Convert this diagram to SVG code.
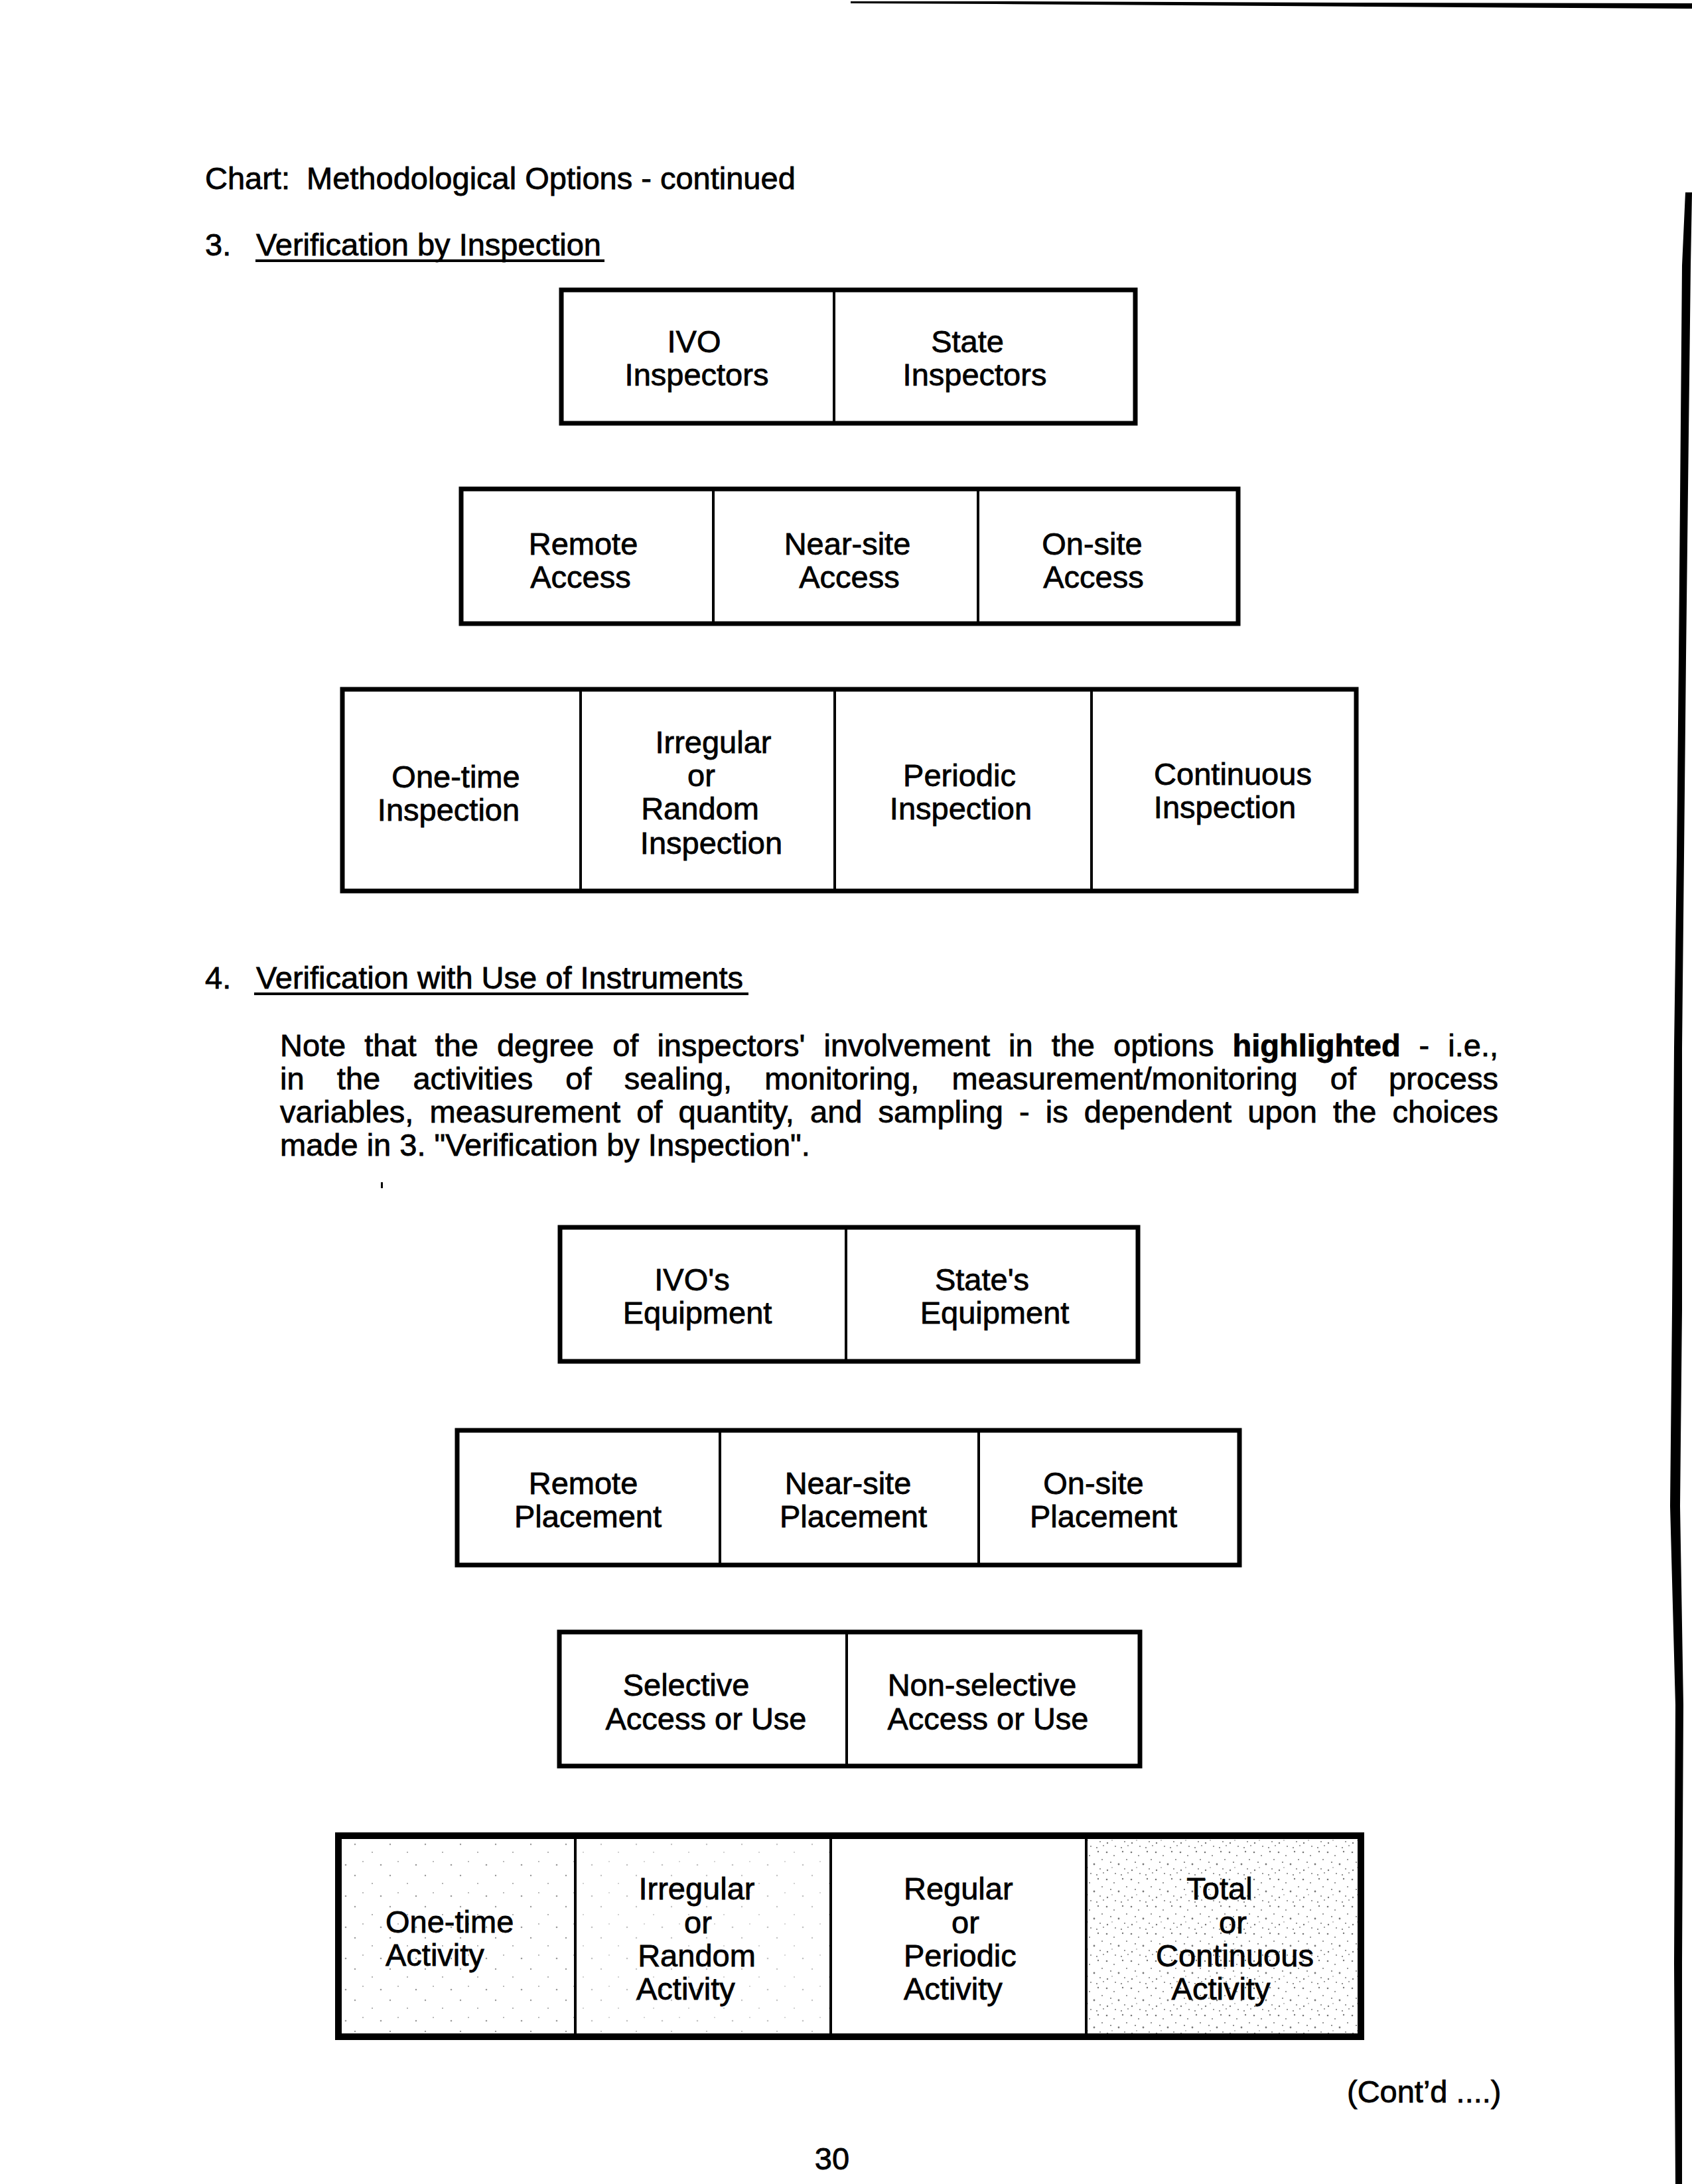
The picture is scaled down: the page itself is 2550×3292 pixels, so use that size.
<svg xmlns="http://www.w3.org/2000/svg" width="2550" height="3292" viewBox="0 0 2550 3292">
<style>
.t{font-family:"Liberation Sans",Arial,Helvetica,sans-serif;font-size:47px;fill:#000;stroke:#000;stroke-width:0.8}
.c{text-anchor:middle}
.b{font-weight:bold}
.cell{fill:none;stroke:#000;stroke-width:4}
.frame{fill:none;stroke:#000;stroke-width:7}
.frameH{fill:none;stroke:#000;stroke-width:10}
.ul{fill:#000}
</style>
<defs>
<pattern id="dotsL" width="53" height="47" patternUnits="userSpaceOnUse">
<g fill="#9a9a9a"><circle cx="5" cy="7" r="1.2"/><circle cx="31" cy="19" r="1"/><circle cx="44" cy="38" r="1.3"/><circle cx="17" cy="33" r="0.9"/></g>
</pattern>
<pattern id="dotsH" width="37" height="41" patternUnits="userSpaceOnUse">
<g fill="#777"><circle cx="3" cy="4" r="1.3"/><circle cx="14" cy="9" r="1"/><circle cx="27" cy="3" r="1.2"/><circle cx="33" cy="15" r="1"/><circle cx="9" cy="19" r="1.1"/><circle cx="21" cy="22" r="1.4"/><circle cx="30" cy="29" r="1"/><circle cx="4" cy="31" r="1.2"/><circle cx="16" cy="36" r="1"/><circle cx="25" cy="38" r="1.1"/><circle cx="35" cy="35" r="0.9"/><circle cx="11" cy="27" r="0.8"/></g>
</pattern>
</defs>
<rect width="2550" height="3292" fill="#fff"/>

<!-- scan edges -->
<g id="scan-edges" fill="#000">
<polygon points="1282,2 1500,2 2060,4 2550,5 2550,13 2060,10 1500,6 1282,5"/>
<polygon points="2540,290 2535,400 2530,990 2527,1290 2523,1580 2520,1975 2517,2270 2525,2570 2523,2960 2525,3292 2535,3292 2535,2960 2537,2570 2532,2270 2535,1975 2535,1580 2538,1290 2541,990 2548,400 2550,290"/>
<rect x="574" y="1782" width="3" height="9"/>
</g>

<!-- headings and text -->
<g id="texts">
<text class="t" x="309" y="285">Chart: <tspan x="462">Methodological Options - continued</tspan></text>
<text class="t" x="309" y="385">3.</text>
<text class="t" x="386" y="385">Verification by Inspection</text>
<rect class="ul" x="385" y="391" width="526" height="4"/>
<text class="t" x="309" y="1490">4.</text>
<text class="t" x="386" y="1490">Verification with Use of Instruments</text>
<rect class="ul" x="383" y="1496" width="745" height="4"/>
<text class="t" x="422" y="1592" word-spacing="15" textLength="1836" lengthAdjust="spacing">Note that the degree of inspectors' involvement in the options <tspan class="b">highlighted</tspan> - i.e.,</text>
<text class="t" x="422" y="1642" word-spacing="36" textLength="1836" lengthAdjust="spacing">in the activities of sealing, monitoring, measurement/monitoring of process</text>
<text class="t" x="422" y="1692" word-spacing="11" textLength="1836" lengthAdjust="spacing">variables, measurement of quantity, and sampling - is dependent upon the choices</text>
<text class="t" x="422" y="1742">made in 3. "Verification by Inspection".</text>
<text class="t" x="2030" y="3169">(Cont’d ....)</text>
<text class="t c" x="1254" y="3270">30</text>
</g>

<!-- Section 3 row 1 -->
<g id="ivo-inspectors">
<rect class="cell" x="846" y="437" width="411" height="201"/>
<text class="t c" x="1046" y="531">IVO</text>
<text class="t c" x="1050" y="581">Inspectors</text>
</g>
<g id="state-inspectors">
<rect class="cell" x="1257" y="437" width="454" height="201"/>
<text class="t c" x="1458" y="531">State</text>
<text class="t c" x="1469" y="581">Inspectors</text>
</g>

<!-- Section 3 row 2 -->
<g id="remote-access">
<rect class="cell" x="695" y="737" width="380" height="203"/>
<text class="t c" x="879" y="836">Remote</text>
<text class="t c" x="875" y="886">Access</text>
</g>
<g id="near-site-access">
<rect class="cell" x="1075" y="737" width="399" height="203"/>
<text class="t c" x="1277" y="836">Near-site</text>
<text class="t c" x="1280" y="886">Access</text>
</g>
<g id="on-site-access">
<rect class="cell" x="1474" y="737" width="392" height="203"/>
<text class="t c" x="1646" y="836">On-site</text>
<text class="t c" x="1648" y="886">Access</text>
</g>

<!-- Section 3 row 3 -->
<g id="one-time-inspection">
<rect class="cell" x="516" y="1039" width="359" height="304"/>
<text class="t c" x="687" y="1187">One-time</text>
<text class="t c" x="676" y="1237">Inspection</text>
</g>
<g id="irregular-random-inspection">
<rect class="cell" x="875" y="1039" width="383" height="304"/>
<text class="t c" x="1075" y="1135">Irregular</text>
<text class="t c" x="1057" y="1185">or</text>
<text class="t c" x="1055" y="1235">Random</text>
<text class="t c" x="1072" y="1287">Inspection</text>
</g>
<g id="periodic-inspection">
<rect class="cell" x="1258" y="1039" width="387" height="304"/>
<text class="t c" x="1446" y="1185">Periodic</text>
<text class="t c" x="1448" y="1235">Inspection</text>
</g>
<g id="continuous-inspection">
<rect class="cell" x="1645" y="1039" width="399" height="304"/>
<text class="t c" x="1858" y="1183">Continuous</text>
<text class="t c" x="1846" y="1233">Inspection</text>
</g>

<!-- Section 4 row 1 -->
<g id="ivos-equipment">
<rect class="cell" x="844" y="1850" width="431" height="202"/>
<text class="t c" x="1043" y="1945">IVO's</text>
<text class="t c" x="1051" y="1995">Equipment</text>
</g>
<g id="states-equipment">
<rect class="cell" x="1275" y="1850" width="440" height="202"/>
<text class="t c" x="1480" y="1945">State's</text>
<text class="t c" x="1499" y="1995">Equipment</text>
</g>

<!-- Section 4 row 2 -->
<g id="remote-placement">
<rect class="cell" x="689" y="2156" width="396" height="203"/>
<text class="t c" x="879" y="2252">Remote</text>
<text class="t c" x="886" y="2302">Placement</text>
</g>
<g id="near-site-placement">
<rect class="cell" x="1085" y="2156" width="390" height="203"/>
<text class="t c" x="1278" y="2252">Near-site</text>
<text class="t c" x="1286" y="2302">Placement</text>
</g>
<g id="on-site-placement">
<rect class="cell" x="1475" y="2156" width="393" height="203"/>
<text class="t c" x="1648" y="2252">On-site</text>
<text class="t c" x="1663" y="2302">Placement</text>
</g>

<!-- Section 4 row 3 -->
<g id="selective-access">
<rect class="cell" x="843" y="2460" width="433" height="202"/>
<text class="t c" x="1034" y="2556">Selective</text>
<text class="t c" x="1064" y="2607">Access or Use</text>
</g>
<g id="non-selective-access">
<rect class="cell" x="1276" y="2460" width="442" height="202"/>
<text class="t c" x="1480" y="2556">Non-selective</text>
<text class="t c" x="1489" y="2607">Access or Use</text>
</g>

<!-- Section 4 row 4 -->
<g id="one-time-activity">
<rect x="510" y="2767" width="357" height="303" fill="url(#dotsL)"/>
<rect class="cell" x="510" y="2767" width="357" height="303"/>
<text class="t" x="581" y="2913">One-time</text>
<text class="t" x="581" y="2963">Activity</text>
</g>
<g id="irregular-random-activity">
<rect x="867" y="2767" width="385" height="303" fill="url(#dotsL)" opacity="0.6"/>
<rect class="cell" x="867" y="2767" width="385" height="303"/>
<text class="t c" x="1050" y="2863">Irregular</text>
<text class="t c" x="1052" y="2914">or</text>
<text class="t c" x="1050" y="2964">Random</text>
<text class="t" x="959" y="3014">Activity</text>
</g>
<g id="regular-periodic-activity">
<rect class="cell" x="1252" y="2767" width="385" height="303"/>
<text class="t" x="1362" y="2863">Regular</text>
<text class="t c" x="1455" y="2914">or</text>
<text class="t" x="1362" y="2964">Periodic</text>
<text class="t" x="1362" y="3014">Activity</text>
</g>
<g id="total-continuous-activity">
<rect x="1637" y="2767" width="414" height="303" fill="url(#dotsH)"/>
<rect class="cell" x="1637" y="2767" width="414" height="303"/>
<text class="t c" x="1838" y="2863">Total</text>
<text class="t c" x="1858" y="2914">or</text>
<text class="t c" x="1861" y="2964">Continuous</text>
<text class="t c" x="1840" y="3014">Activity</text>
</g>

<!-- row frames -->
<g id="frames">
<rect class="frame" x="846" y="437" width="865" height="201"/>
<rect class="frame" x="695" y="737" width="1171" height="203"/>
<rect class="frame" x="516" y="1039" width="1528" height="304"/>
<rect class="frame" x="844" y="1850" width="871" height="202"/>
<rect class="frame" x="689" y="2156" width="1179" height="203"/>
<rect class="frame" x="843" y="2460" width="875" height="202"/>
<rect class="frameH" x="510" y="2767" width="1541" height="303"/>
</g>

<g id="connectors"/>
</svg>
